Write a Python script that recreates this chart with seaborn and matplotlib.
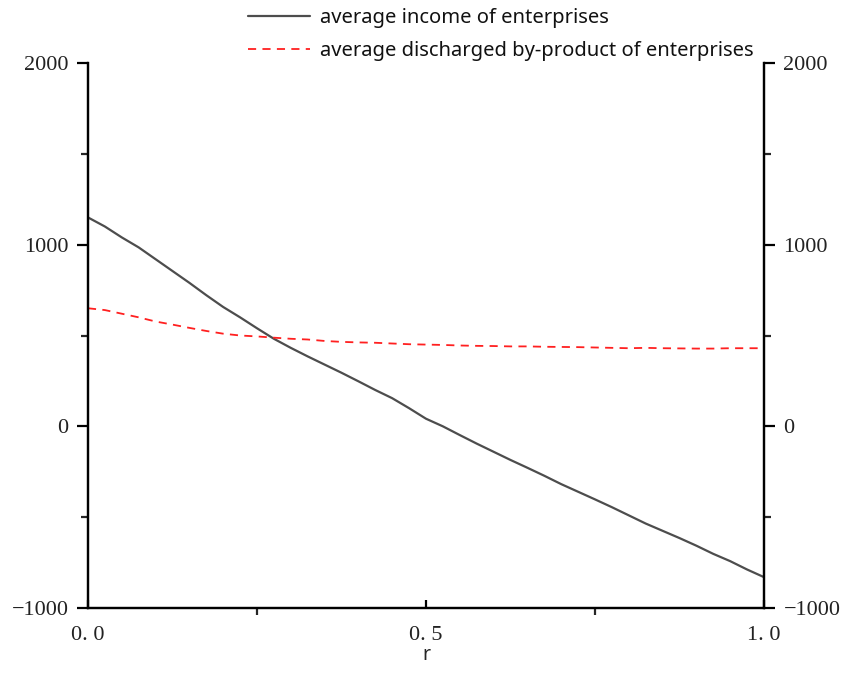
import numpy as np
import pandas as pd
import matplotlib
matplotlib.use("Agg")
import matplotlib.pyplot as plt
import seaborn as sns
from matplotlib.ticker import MultipleLocator, FixedLocator

# r values and the two simulated averages
r_values = [0.000, 0.025, 0.050, 0.075, 0.100, 0.125, 0.150, 0.175, 0.200, 0.225,
            0.250, 0.275, 0.300, 0.325, 0.350, 0.375, 0.400, 0.425, 0.450, 0.475,
            0.500, 0.525, 0.550, 0.575, 0.600, 0.625, 0.650, 0.675, 0.700, 0.725,
            0.750, 0.775, 0.800, 0.825, 0.850, 0.875, 0.900, 0.925, 0.950, 0.975, 1.000]
income = [1150, 1100, 1040, 985, 920, 855, 790, 722, 657, 600,
          540, 482, 432, 385, 340, 295, 248, 200, 155, 100,
          42, 0, -48, -95, -140, -185, -228, -272, -318, -360,
          -402, -445, -490, -535, -575, -615, -657, -702, -742, -788, -830]
byproduct = [650, 640, 620, 600, 577, 560, 542, 525, 510, 500,
             495, 488, 482, 478, 470, 465, 462, 460, 456, 452,
             450, 448, 445, 443, 442, 440, 440, 438, 437, 436,
             434, 432, 430, 432, 430, 429, 428, 428, 430, 430, 430]

income_label = "average income of enterprises"
byproduct_label = "average discharged by-product of enterprises"
x_ticks = [0.0, 0.5, 1.0]
x_tick_labels = ["0. 0", "0. 5", "1. 0"]
y_ticks = [-1000, 0, 1000, 2000]

df = pd.DataFrame({"r": r_values, "income": income, "byproduct": byproduct})

sns.set_theme(style="white")
plt.rcParams["font.family"] = ["Noto Sans", "DejaVu Sans"]

fig = plt.figure(figsize=(8.41, 6.84), dpi=100)
ax = fig.add_axes([0.1046, 0.1111, 0.8038, 0.7968])

sns.lineplot(data=df, x="r", y="income", ax=ax, color="#4d4d4d", linewidth=1.6,
             label=income_label)
sns.lineplot(data=df, x="r", y="byproduct", ax=ax, color="#ff2020", linewidth=1.3,
             dashes=False, label=byproduct_label)
ax.lines[1].set_dashes((4.5, 3.5))

ax.set_xlim(0, 1.0)
ax.set_ylim(-1000, 2000)

ax2 = ax.twinx()
ax2.set_ylim(-1000, 2000)

serif = ["Liberation Serif", "DejaVu Serif"]
for a in (ax, ax2):
    a.yaxis.set_major_locator(FixedLocator(y_ticks))
    a.yaxis.set_minor_locator(MultipleLocator(500))
    a.spines["top"].set_visible(False)
    for s in a.spines.values():
        s.set_linewidth(1.6)
        s.set_color("black")

ax.set_xticks(x_ticks)
ax.set_xticklabels(x_tick_labels, fontfamily=serif, fontsize=16)
ax.xaxis.set_minor_locator(FixedLocator([0.25, 0.75]))
ax.set_yticklabels([str(v).replace("-", "\u2212") for v in y_ticks],
                   fontfamily=serif, fontsize=16)
ax2.set_yticklabels([str(v).replace("-", "\u2212") for v in y_ticks],
                    fontfamily=serif, fontsize=16)

ax.tick_params(axis="y", which="major", direction="out", length=8, width=1.6,
               left=True, right=False, pad=6, colors="black")
ax.tick_params(axis="y", which="minor", direction="out", length=5, width=1.6,
               left=True, right=False)
ax2.tick_params(axis="y", which="major", direction="out", length=8, width=1.6,
                right=True, left=False, pad=6, colors="black")
ax2.tick_params(axis="y", which="minor", direction="out", length=5, width=1.6,
                right=True, left=False)
ax.tick_params(axis="x", which="major", direction="in", length=6, width=1.6,
               bottom=True, pad=13, colors="black")
ax.tick_params(axis="x", which="minor", direction="out", length=5, width=1.6,
               bottom=True)
ax.tick_params(axis="both", labelcolor="#222222")
ax2.tick_params(axis="both", labelcolor="#222222")

ax.set_xlabel("r", fontsize=14, labelpad=0)
ax.set_ylabel("")
ax2.set_ylabel("")

leg = ax.legend(loc="upper left", bbox_to_anchor=(248 / 841, 1 - 8 / 684),
                bbox_transform=fig.transFigure, frameon=False, fontsize=14.5,
                handlelength=3.1, handletextpad=0.5, labelspacing=0.65,
                borderpad=0, borderaxespad=0)
for t in leg.get_texts():
    t.set_color("#111111")

fig.savefig("out.png", dpi=100)
